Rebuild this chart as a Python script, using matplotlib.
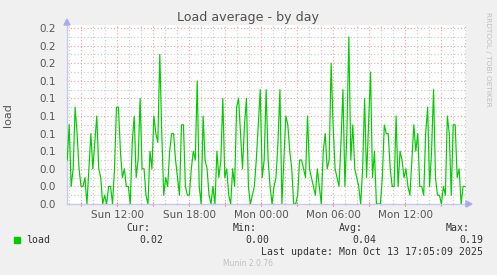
import numpy as np
import matplotlib
matplotlib.use('Agg')
import matplotlib.pyplot as plt
from matplotlib.ticker import MultipleLocator

# ── data (hours since Sun 00:00) ──────────────────────────
t_start = 7.85
t_end = 41.0
load_values = [
    # Sun 07:50 - 12:30
    0.05, 0.09, 0.02, 0.04, 0.11, 0.08, 0.04, 0.02, 0.02, 0.03, 0.00, 0.04, 0.08, 0.04, 0.07,
    0.10, 0.04, 0.03, 0.00, 0.01, 0.00, 0.02, 0.02, 0.00, 0.04, 0.11, 0.11, 0.06, 0.03,
    # Sun 12:30 - 17:15
    0.04, 0.02, 0.02, 0.00, 0.07, 0.10, 0.03, 0.05, 0.12, 0.04, 0.04, 0.01, 0.00, 0.06, 0.04,
    0.10, 0.08, 0.07, 0.17, 0.08, 0.01, 0.03, 0.02, 0.06, 0.08, 0.08, 0.05, 0.03, 0.01,
    # Sun 17:15 - 22:00
    0.09, 0.09, 0.02, 0.01, 0.01, 0.04, 0.06, 0.05, 0.14, 0.02, 0.00, 0.10, 0.05, 0.04, 0.01,
    0.00, 0.02, 0.00, 0.06, 0.03, 0.05, 0.12, 0.03, 0.04, 0.01, 0.00, 0.04, 0.02, 0.11,
    # Sun 22:00 - Mon 02:45
    0.12, 0.08, 0.04, 0.09, 0.12, 0.02, 0.00, 0.01, 0.02, 0.05, 0.09, 0.13, 0.03, 0.05, 0.13,
    0.05, 0.02, 0.00, 0.02, 0.03, 0.07, 0.13, 0.00, 0.05, 0.10, 0.09, 0.06, 0.04, 0.00,
    # Mon 02:45 - 07:30
    0.00, 0.01, 0.05, 0.05, 0.04, 0.03, 0.10, 0.04, 0.03, 0.02, 0.01, 0.04, 0.02, 0.00, 0.06,
    0.08, 0.04, 0.05, 0.16, 0.09, 0.04, 0.03, 0.02, 0.07, 0.13, 0.02, 0.08, 0.19, 0.05,
    # Mon 07:30 - 12:15
    0.09, 0.04, 0.03, 0.02, 0.00, 0.04, 0.12, 0.03, 0.09, 0.15, 0.03, 0.06, 0.00, 0.00, 0.00,
    0.03, 0.09, 0.08, 0.08, 0.04, 0.02, 0.02, 0.10, 0.02, 0.06, 0.05, 0.03, 0.04, 0.02,
    # Mon 12:15 - 17:00
    0.01, 0.05, 0.09, 0.06, 0.08, 0.02, 0.02, 0.01, 0.08, 0.11, 0.02, 0.06, 0.13, 0.03, 0.01,
    0.01, 0.00, 0.02, 0.01, 0.10, 0.08, 0.01, 0.09, 0.09, 0.03, 0.04, 0.00, 0.02, 0.02,
]

y_ticks = [0.00, 0.02, 0.04, 0.06, 0.08, 0.10, 0.12, 0.14, 0.16, 0.18, 0.20]
y_tick_labels = ['0.0', '0.0', '0.0', '0.1', '0.1', '0.1', '0.1', '0.1', '0.2', '0.2', '0.2']
x_ticks = [9, 12, 15, 18, 21, 24, 27, 30, 33, 36, 39]
x_tick_labels = ['', 'Sun 12:00', '', 'Sun 18:00', '', 'Mon 00:00', '',
                 'Mon 06:00', '', 'Mon 12:00', '']

legend_heads = ['Cur:', 'Min:', 'Avg:', 'Max:']
legend_vals = ['0.02', '0.00', '0.04', '0.19']

BG = '#F0F0F0'
GREEN = '#00CC00'
AXIS_C = '#C8C8F0'
MAJOR_C = '#F0A0A0'
MINOR_C = '#C8C8C8'
TXT = '#555555'

fig = plt.figure(figsize=(4.97, 2.75), dpi=100, facecolor=BG)
W, H = 497.0, 275.0
ax = fig.add_axes([67 / W, 1 - 204 / H, (466 - 67) / W, (204 - 25) / H])
ax.set_facecolor('white')

t = np.linspace(t_start, t_end, len(load_values))
ax.plot(t, load_values, color=GREEN, lw=0.85, zorder=3)

ax.set_xlim(t_start - 0.02, t_start - 0.02 + 399 / 12.0)
ax.set_ylim(0, 0.2 + 3 / 875)

ax.set_yticks(y_ticks)
ax.set_yticklabels(y_tick_labels)
ax.yaxis.set_minor_locator(MultipleLocator(0.01))
ax.set_xticks(x_ticks)
ax.set_xticklabels(x_tick_labels)
ax.xaxis.set_minor_locator(MultipleLocator(1))

ax.grid(which='minor', color=MINOR_C, linestyle=(0, (1, 2)), linewidth=0.8)
ax.grid(which='major', color=MAJOR_C, linestyle=(0, (1, 2)), linewidth=0.8)
ax.set_axisbelow(True)

ax.tick_params(which='both', labelsize=7.5, labelcolor=TXT, pad=4)
ax.tick_params(axis='x', which='major', color='#FF7070', length=3, direction='inout', pad=3)
ax.tick_params(axis='x', which='minor', color='#B0B0B0', length=2, direction='inout')
ax.tick_params(axis='y', which='both', length=0, pad=8)

for s in ['top', 'right']:
    ax.spines[s].set_visible(False)
for s in ['left', 'bottom']:
    ax.spines[s].set_color(AXIS_C)
    ax.spines[s].set_linewidth(1.0)

# axis arrows
fig.patches.append(plt.Polygon([[64 / W, 1 - 25 / H], [70 / W, 1 - 25 / H], [67 / W, 1 - 19 / H]],
                               closed=True, transform=fig.transFigure, color='#AAAAEE'))
fig.patches.append(plt.Polygon([[466 / W, 1 - 201 / H], [466 / W, 1 - 207 / H], [472 / W, 1 - 204 / H]],
                               closed=True, transform=fig.transFigure, color='#AAAAEE'))

# texts
fig.text(248 / W, 1 - 18 / H, 'Load average - by day', ha='center', va='center',
         fontsize=9.1, color='#505050')
fig.text(8 / W, 1 - 115 / H, 'load', ha='center', va='center', rotation=90,
         fontsize=8, color=TXT)
fig.text(488 / W, 1 - 12 / H, 'RRDTOOL / TOBI OETIKER', ha='center', va='top', rotation=270,
         fontsize=5.3, color='#C0C0C0')

mono = 'DejaVu Sans Mono'
head_x = [150, 257, 363, 470]
val_x = [163, 269, 376, 483]
for hx, h in zip(head_x, legend_heads):
    fig.text(hx / W, 1 - 228 / H, h, ha='right', va='center', family=mono, fontsize=7.1, color='#333333')
for vx, v in zip(val_x, legend_vals):
    fig.text(vx / W, 1 - 240 / H, v, ha='right', va='center', family=mono, fontsize=7.1, color='#333333')
fig.patches.append(plt.Rectangle((14 / W, 1 - 243 / H), 6 / W, 6 / H, transform=fig.transFigure,
                                 color=GREEN))
fig.text(26 / W, 1 - 240 / H, 'load', ha='left', va='center', family=mono, fontsize=7.1, color='#333333')
fig.text(483 / W, 1 - 252 / H, 'Last update: Mon Oct 13 17:05:09 2025', ha='right', va='center',
         family=mono, fontsize=7.1, color='#333333')
fig.text(248 / W, 1 - 264 / H, 'Munin 2.0.76', ha='center', va='center', fontsize=5.5, color='#C0C0C0')

fig.savefig('out.png', dpi=100, facecolor=BG)
